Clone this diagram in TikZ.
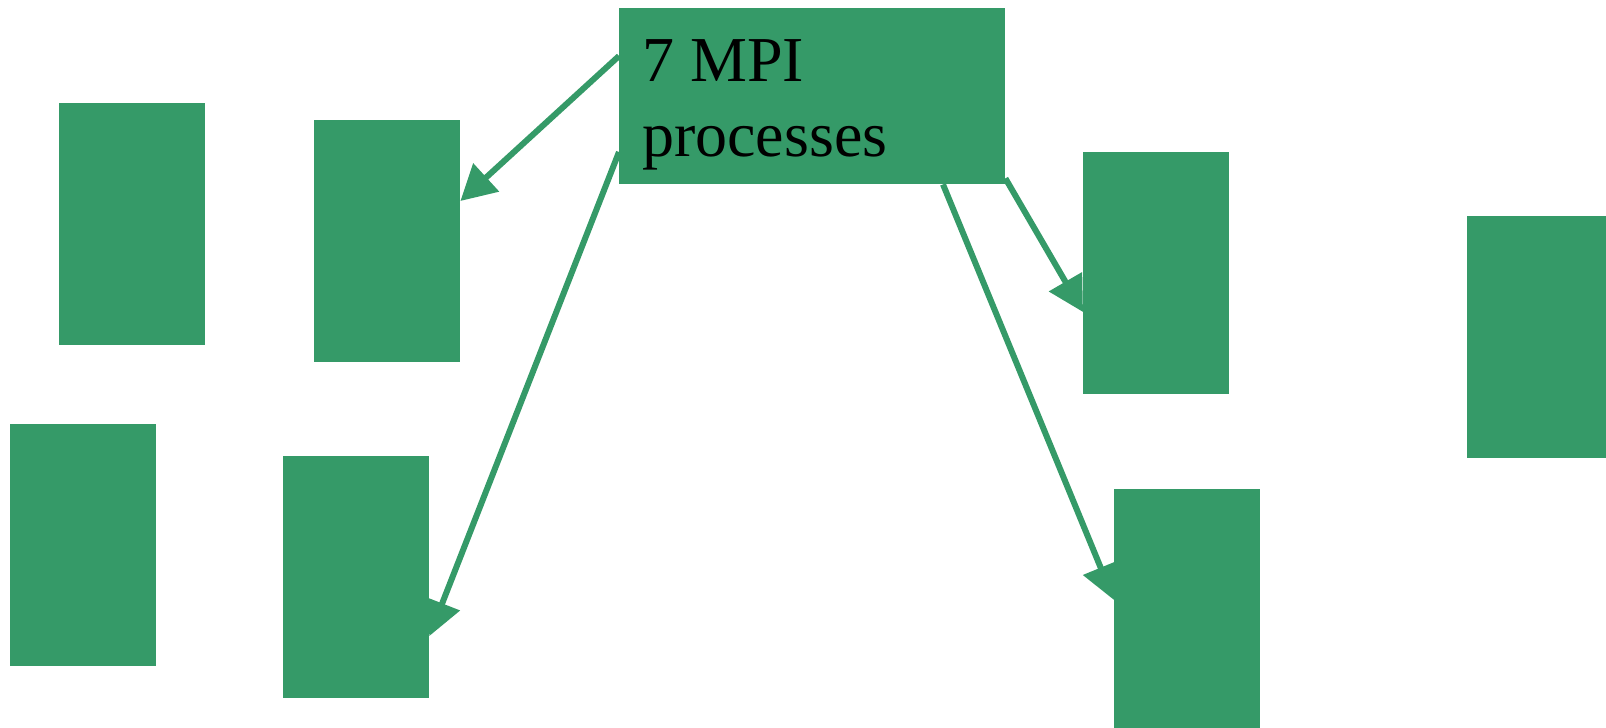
\documentclass[tikz,border=0pt]{standalone}
\usepackage{fontspec}
\setmainfont{Liberation Serif}
\usetikzlibrary{arrows.meta}
\definecolor{procgreen}{RGB}{53,154,104}
\begin{document}
\begin{tikzpicture}[x=1pt,y=-1pt,
  proc/.style={fill=procgreen,draw=none,inner sep=0pt,anchor=north west,minimum width=146pt,minimum height=242pt},
  conn/.style={draw=procgreen,line width=6pt,-{Triangle[length=35pt,width=37pt]}},
  lbl/.style={inner sep=0pt,anchor=north west,align=left,font=\fontsize{64}{75}\selectfont}]
\useasboundingbox (0,0) rectangle (1606,728);
\node[proc] (r1) at (59,103) {};
\node[proc] (r2) at (314,120) {};
\node[proc] (r3) at (10,424) {};
\node[proc] (r4) at (283,456) {};
\node[proc] (r5) at (1083,152) {};
\node[proc,minimum width=139pt] (r6) at (1467,216) {};
\node[proc,minimum height=240pt] (r7) at (1114,489) {};
\node[fill=procgreen,draw=none,inner sep=0pt,anchor=north west,minimum width=386pt,minimum height=176pt] (mpi) at (619,8) {};
\node[lbl] (mpitext) at (642,39) {7 MPI\\processes};
\coordinate (s1) at ([yshift=-48]mpi.north west);
\coordinate (s2) at ([yshift=-144]mpi.north west);
\coordinate (s3) at ([yshift=6]mpi.south east);
\coordinate (s4) at ([xshift=324]mpi.south west);
\coordinate (t1) at ([yshift=-81]r2.north east);
\coordinate (t2) at ([yshift=-180]r4.north east);
\coordinate (t3) at ([yshift=-160]r5.north west);
\coordinate (t4) at ([yshift=-111]r7.north west);
\draw[conn] (s1) -- (t1);
\draw[conn] (s2) -- (t2);
\draw[conn] (s3) -- (t3);
\draw[conn] (s4) -- (t4);
\end{tikzpicture}
\end{document}
